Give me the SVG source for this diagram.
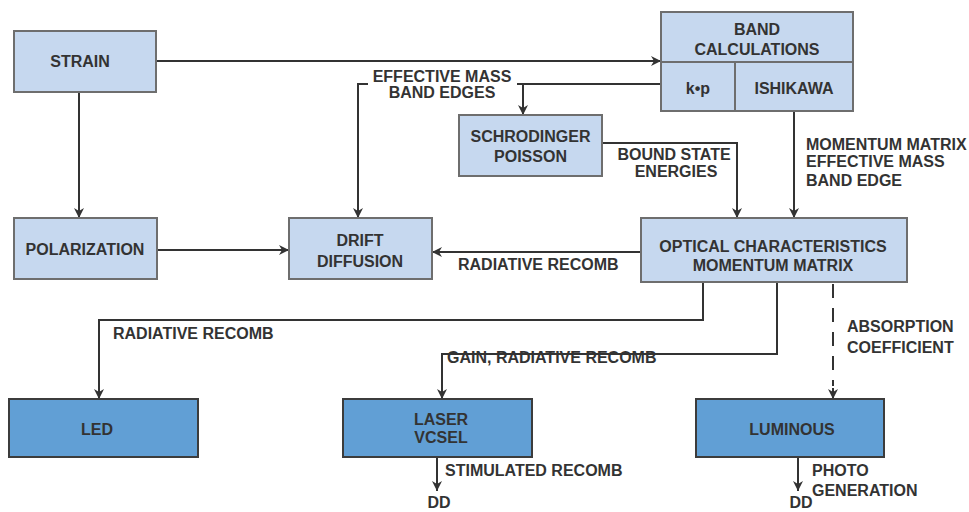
<svg xmlns="http://www.w3.org/2000/svg" width="969" height="512" viewBox="0 0 969 512">
<style>
text{font-family:"Liberation Sans",Arial,sans-serif;font-weight:bold;font-size:16px;fill:#333}
.c{text-anchor:middle}
.lt{fill:#c6d8ef;stroke:#6e6e6e;stroke-width:2}
.dk{fill:#619fd5;stroke:#3c3c3c;stroke-width:2}
.ln{fill:none;stroke:#333;stroke-width:2}
.dash{stroke-dasharray:14 10}
</style>
<defs>
<marker id="ah" viewBox="0 0 10 10" refX="10" refY="5" markerWidth="10" markerHeight="10" markerUnits="userSpaceOnUse" orient="auto">
<path d="M0,0 L10,5 L0,10 L3,5 z" fill="#333"/>
</marker>
</defs>
<g id="connectors">
<path class="ln" d="M156,61 H661" marker-end="url(#ah)"/>
<path class="ln" d="M79,92 V218" marker-end="url(#ah)"/>
<path class="ln" d="M157,250 H289" marker-end="url(#ah)"/>
<path class="ln" d="M661,84 H517"/>
<path class="ln" d="M523,84 V115" marker-end="url(#ah)"/>
<path class="ln" d="M368,84 H358 V218" marker-end="url(#ah)"/>
<path class="ln" d="M602,143 H737 V218" marker-end="url(#ah)"/>
<path class="ln" d="M794,111 V218" marker-end="url(#ah)"/>
<path class="ln" d="M641,252 H432" marker-end="url(#ah)"/>
<path class="ln" d="M703,282 V320 H99 V399" marker-end="url(#ah)"/>
<path class="ln" d="M777,282 V354 H442 V399" marker-end="url(#ah)"/>
<path class="ln dash" d="M833,284 V386"/>
<path class="ln" d="M833,388 V399" marker-end="url(#ah)"/>
<path class="ln" d="M437,457 V491" marker-end="url(#ah)"/>
<path class="ln" d="M798,457 V491" marker-end="url(#ah)"/>
<text class="c" x="442" y="81.5">EFFECTIVE MASS</text>
<text class="c" x="442" y="98">BAND EDGES</text>
<text class="c" x="674" y="160">BOUND STATE</text>
<text class="c" x="676" y="177">ENERGIES</text>
<text x="806" y="149.5">MOMENTUM MATRIX</text>
<text x="806" y="166.5">EFFECTIVE MASS</text>
<text x="806" y="185.5">BAND EDGE</text>
<text x="458" y="270">RADIATIVE RECOMB</text>
<text x="113" y="339">RADIATIVE RECOMB</text>
<text x="447" y="363">GAIN, RADIATIVE RECOMB</text>
<text x="847" y="332">ABSORPTION</text>
<text x="847" y="353">COEFFICIENT</text>
<text x="445" y="476">STIMULATED RECOMB</text>
<text class="c" x="439" y="508">DD</text>
<text x="812" y="476">PHOTO</text>
<text x="812" y="496">GENERATION</text>
<text class="c" x="801" y="508">DD</text>
</g>
<g id="strain">
<rect class="lt" x="14" y="31" width="142" height="61"/>
<text class="c" x="80" y="67">STRAIN</text>
</g>
<g id="band">
<rect class="lt" x="661" y="12" width="192" height="99"/>
<path class="ln" d="M661,62 H853 M735,62 V111" style="stroke:#6e6e6e"/>
<text class="c" x="757" y="35">BAND</text>
<text class="c" x="757" y="55">CALCULATIONS</text>
<text class="c" x="698" y="94">k•p</text>
<text class="c" x="794" y="94">ISHIKAWA</text>
</g>
<g id="schrodinger">
<rect class="lt" x="459" y="115" width="143" height="61"/>
<text class="c" x="530.5" y="141.5">SCHRODINGER</text>
<text class="c" x="530.5" y="161.5">POISSON</text>
</g>
<g id="polarization">
<rect class="lt" x="14" y="218" width="143" height="61"/>
<text class="c" x="85" y="255">POLARIZATION</text>
</g>
<g id="drift">
<rect class="lt" x="289" y="218" width="143" height="61"/>
<text class="c" x="360" y="246">DRIFT</text>
<text class="c" x="360" y="267">DIFFUSION</text>
</g>
<g id="optical">
<rect class="lt" x="641" y="218" width="266" height="64"/>
<text class="c" x="773" y="252">OPTICAL CHARACTERISTICS</text>
<text class="c" x="773" y="270.5">MOMENTUM MATRIX</text>
</g>
<g id="led">
<rect class="dk" x="9" y="399" width="189" height="58"/>
<text class="c" x="97" y="435">LED</text>
</g>
<g id="laser">
<rect class="dk" x="343" y="399" width="189" height="58"/>
<text class="c" x="441" y="425">LASER</text>
<text class="c" x="441" y="442.5">VCSEL</text>
</g>
<g id="luminous">
<rect class="dk" x="696" y="399" width="188" height="58"/>
<text class="c" x="792" y="435">LUMINOUS</text>
</g>
</svg>
